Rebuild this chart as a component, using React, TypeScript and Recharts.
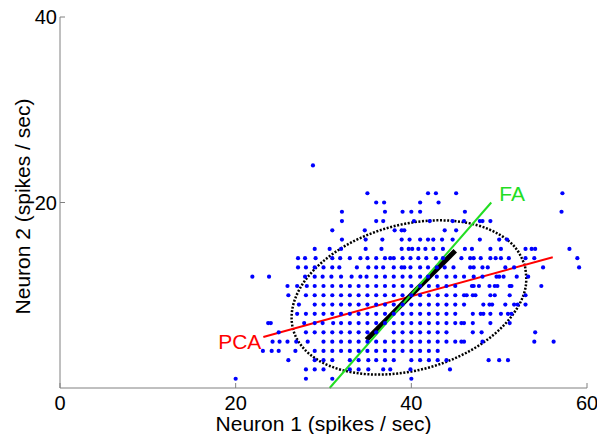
import {
  ComposedChart,
  Line,
  ReferenceDot,
  ReferenceLine,
  Scatter,
  XAxis,
  YAxis,
} from 'recharts';

const xTicks = [0, 20, 40, 60];
const yTicks = [20, 40];

// neuron 1 rates for each neuron 2 rate (rows of the spike-count grid)
const row1 = [20, 28, 31, 40];
const row2 = [28, 29, 30, 33, 34, 35.1, 36.8, 37.6, 39.9, 44.4];
const row3 = [26, 29, 30, 31, 33, 34, 35.1, 36, 37, 38, 40, 41, 42, 43, 44, 48.8, 50, 51];
const row4 = [23.1, 24.1, 24.9, 26.8, 29, 30, 31, 32, 33, 34, 35, 36, 37, 38, 39, 40, 41, 42, 43];
const row5 = [24.2, 25, 25.9, 26.9, 28.2, 30, 31, 32, 33, 34, 35, 36, 37, 38, 39, 40, 41, 42, 43, 44, 45, 45.7, 46, 48.1, 54, 56.2];
const row6 = [24.9, 28, 29, 30, 31, 32, 33, 34, 35, 36, 38, 39, 40, 41, 42, 43, 44, 47, 48, 54.1];
const row7 = [23.7, 24, 27.8, 29, 29.9, 31.1, 32, 33, 34, 35, 36, 37, 38, 39, 40, 41, 42, 43, 44, 45, 45.7, 46, 47, 49, 51.2];
const row8 = [27, 28, 29, 30, 31, 32, 33, 34, 35, 36, 37, 38, 39, 40, 41, 42, 43, 44, 45, 47, 47.9, 48.2, 49, 50.2, 51, 51.4];
const row9 = [27.2, 29, 30, 31, 32, 33, 34, 35, 36, 37, 38, 39, 40, 41, 42, 43, 44, 45, 46, 48.2, 48.9, 49.2, 50.7, 51.7, 52.1, 53];
const row10 = [26, 28, 29, 30, 31, 32, 33, 34, 35, 36, 37, 38, 39, 40, 41, 42, 43, 44, 45, 46, 46.3, 47, 47.3, 49, 49.5, 51.2, 53];
const row11 = [25.9, 27, 28.1, 29, 30, 31, 32, 33, 34, 35, 36, 37, 38, 39, 40, 41, 42, 43, 44, 45, 46.9, 47.1, 47.7, 48.9, 49.5, 49.8, 51.2, 51.4, 54.8];
const row12 = [21.9, 23.8, 27.9, 29, 29.9, 30.9, 32, 33.2, 34.2, 34.9, 36, 37, 38, 39, 39.9, 41, 41.9, 42.9, 44, 45, 46, 47.1, 48.1, 49.7, 50, 50.5, 52, 53.3];
const row13 = [27.1, 28, 29, 30, 31, 31.8, 33.8, 35.1, 36, 36.8, 38, 38.9, 39.2, 39.9, 41, 41.9, 42.9, 43.8, 44.8, 46.7, 47.1, 48.1, 48.7, 50.7, 51.7, 55, 59.1];
const row14 = [27.1, 27.9, 29.1, 31, 31.9, 33, 34.2, 35, 36, 37, 37.6, 38, 39, 39.9, 40.8, 41.7, 42.8, 43.6, 45.7, 46.7, 47.1, 47.9, 49, 49.6, 50.2, 51.1, 53, 54, 58.9];
const row15 = [29, 30.7, 32, 34.8, 36.6, 38.9, 39.7, 40.1, 40.8, 41.6, 42.5, 43.6, 46.1, 46.9, 49, 50.2, 53, 53.7, 54.1, 58];
const row16 = [32.1, 34.8, 36.7, 38.9, 39.8, 41, 41.9, 42.5, 43.5, 44.7, 47.8, 50, 50.9];
const row17 = [31, 34.7, 38.1, 38.9, 39.2, 43.8, 45.1];
const row18 = [32.1, 36, 36.8, 40.3, 42.1, 44.7, 46, 47.8, 48.1, 49];
const row19 = [32.1, 37, 39, 40, 41, 46.1, 57.1];
const row20 = [36, 36.9, 41, 43.1];
const row21 = [35, 41.9, 42.8, 45.1, 57.2];
const row24 = [28.8];

const rows: [number, number[]][] = [
  [1, row1], [2, row2], [3, row3], [4, row4], [5, row5], [6, row6],
  [7, row7], [8, row8], [9, row9], [10, row10], [11, row11], [12, row12],
  [13, row13], [14, row14], [15, row15], [16, row16], [17, row17],
  [18, row18], [19, row19], [20, row20], [21, row21], [24, row24],
];
const points = rows.flatMap(([y, xs]) => xs.map((x) => ({ x, y })));

// covariance ellipse outline
const ellipseX = [52.93, 51.91, 50.05, 47.5, 44.42, 41.02, 37.53, 34.19, 31.23, 28.85, 27.21, 26.43, 26.55, 27.57, 29.41, 31.97, 35.05, 38.45, 41.94, 45.28, 48.24, 50.62, 52.26, 53.05, 52.93];
const ellipseY = [13.21, 15.05, 16.53, 17.55, 18.04, 17.96, 17.32, 16.17, 14.58, 12.67, 10.55, 8.38, 6.3, 4.46, 2.99, 1.97, 1.48, 1.56, 2.19, 3.34, 4.93, 6.85, 8.96, 11.13, 13.21];
const ellipse = ellipseX.map((x, i) => ({ x, y: ellipseY[i] }));

const pcaLine = [{ x: 23.15, y: 5.5 }, { x: 56.1, y: 14.1 }];
const faLine = [{ x: 30.7, y: 0 }, { x: 49.1, y: 20 }];
const loading = [{ x: 34.9, y: 5.2 }, { x: 45, y: 14.8 }];

const AXIS = '#808080';
const FONT = 'Liberation Sans, Arial, sans-serif';

function XTick(props: any) {
  const { x, y, payload } = props;
  return (
    <g>
      <line x1={x} y1={y} x2={x} y2={y - 5} stroke={AXIS} />
      <text x={x} y={y + 21.5} textAnchor="middle" fontSize={20} fontFamily={FONT} fill="#000">
        {payload.value}
      </text>
    </g>
  );
}

function YTick(props: any) {
  const { x, y, payload } = props;
  return (
    <g>
      <line x1={x} y1={y} x2={x + 5} y2={y} stroke={AXIS} />
      <text x={x - 3} y={y + 7} textAnchor="end" fontSize={20} fontFamily={FONT} fill="#000">
        {payload.value}
      </text>
    </g>
  );
}

const Dot = (props: any) => <circle cx={props.cx} cy={props.cy} r={2.1} fill="#0000ff" />;

export default function App() {
  return (
    <div style={{ position: 'absolute', left: 0, top: 0, background: '#fff' }}>
      <ComposedChart width={597} height={434} margin={{ top: 17, right: 10, left: 0, bottom: 0 }}>
        <XAxis
          dataKey="x"
          type="number"
          domain={[0, 60]}
          ticks={xTicks}
          tick={<XTick />}
          tickSize={0}
          tickMargin={0}
          stroke={AXIS}
          height={46}
          label={(p: any) => (
            <text
              x={p.viewBox.x + p.viewBox.width / 2}
              y={p.viewBox.y + 42.5}
              textAnchor="middle"
              fontSize={21}
              fontFamily={FONT}
              fill="#000"
            >
              Neuron 1 (spikes / sec)
            </text>
          )}
        />
        <YAxis
          dataKey="y"
          type="number"
          domain={[0, 40]}
          ticks={yTicks}
          tick={<YTick />}
          tickSize={0}
          tickMargin={0}
          stroke={AXIS}
          width={60}
          label={(p: any) => {
            const cx = p.viewBox.x + 30;
            const cy = p.viewBox.y + p.viewBox.height / 2 + 4;
            return (
              <text
                x={cx}
                y={cy}
                transform={`rotate(-90 ${cx} ${cy})`}
                textAnchor="middle"
                fontSize={21}
                fontFamily={FONT}
                fill="#000"
              >
                Neuron 2 (spikes / sec)
              </text>
            );
          }}
        />
        <Scatter data={points} shape={<Dot />} isAnimationActive={false} />
        <Line
          data={ellipse}
          dataKey="y"
          type="natural"
          stroke="#000"
          strokeWidth={2.5}
          strokeDasharray="2 1.6"
          dot={false}
          isAnimationActive={false}
        />
        <ReferenceLine segment={pcaLine} stroke="#ff0000" strokeWidth={2} ifOverflow="visible" />
        <ReferenceLine segment={loading} stroke="#000" strokeWidth={5} ifOverflow="visible" />
        <ReferenceLine segment={faLine} stroke="#22dd22" strokeWidth={2} ifOverflow="visible" />
        <ReferenceDot
          x={pcaLine[0].x}
          y={pcaLine[0].y}
          r={0}
          ifOverflow="visible"
          label={(p: any) => (
            <text x={p.viewBox.x - 2} y={p.viewBox.y + 12} textAnchor="end" fill="#ff0000" fontSize={21} fontFamily={FONT}>
              PCA
            </text>
          )}
        />
        <ReferenceDot
          x={faLine[1].x}
          y={faLine[1].y}
          r={0}
          ifOverflow="visible"
          label={(p: any) => (
            <text x={p.viewBox.x + 8} y={p.viewBox.y - 2} fill="#22dd22" fontSize={21} fontFamily={FONT}>
              FA
            </text>
          )}
        />
      </ComposedChart>
    </div>
  );
}
